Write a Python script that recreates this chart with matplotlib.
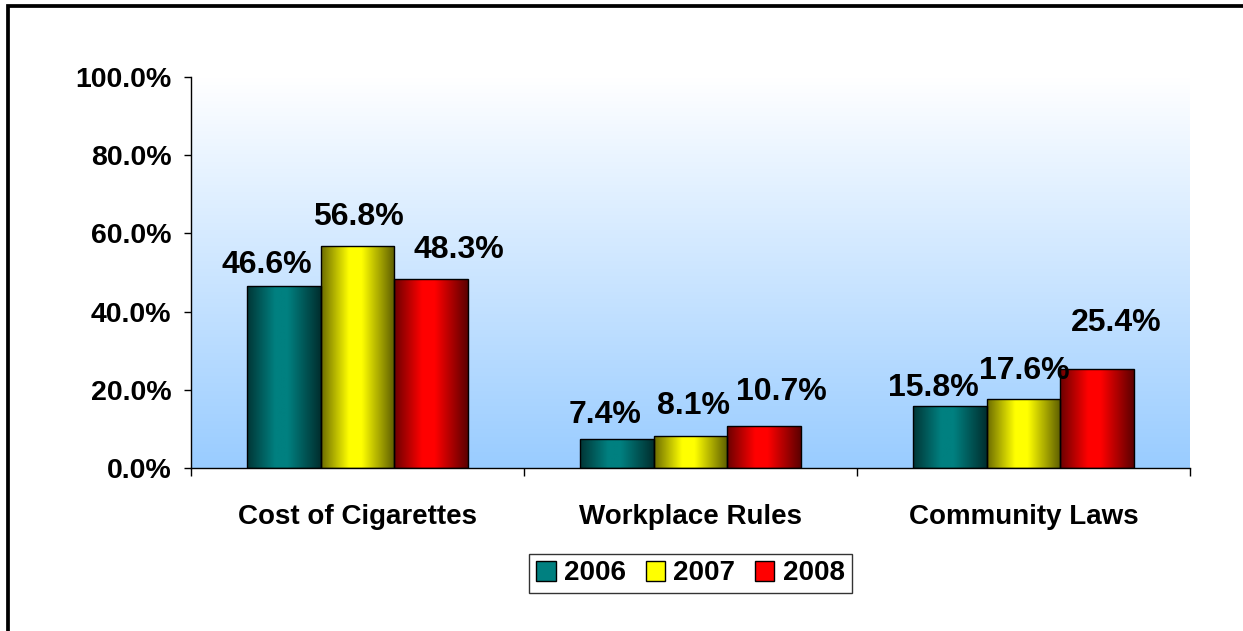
import numpy as np
import matplotlib
matplotlib.use("Agg")
import matplotlib.pyplot as plt
from matplotlib.patches import Patch, Rectangle
from matplotlib.colors import to_rgb

plt.rcParams['font.family'] = ['Liberation Sans', 'DejaVu Sans']
plt.rcParams['font.weight'] = 'bold'

# data
categories = ["Cost of Cigarettes", "Workplace Rules", "Community Laws"]
years = ["2006", "2007", "2008"]
share_2006 = [0.466, 0.074, 0.158]
share_2007 = [0.568, 0.081, 0.176]
share_2008 = [0.483, 0.107, 0.254]
series = [share_2006, share_2007, share_2008]

colors = ["#008080", "#FFFF00", "#FF0000"]
# where excel nudged the data labels (pixels, dx / gap above bar)
label_dx = [[-17, -12, -16], [1, 3, 1], [27, 17, 19]]
label_dy = [[13, 16, 10], [21, 22, 20], [21, 26, 38]]

W, H = 1243, 631
fig = plt.figure(figsize=(W / 100, H / 100), dpi=100)
fig.patch.set_facecolor("white")
ax = fig.add_axes([191 / W, 1 - 468 / H, (1190 - 191) / W, (468 - 77) / H])

# plot area gradient: white on top, light blue at the bottom
grad = np.linspace(0, 1, 256)[:, None]
top = np.array(to_rgb("#FFFFFF"))
bot = np.array(to_rgb("#99CCFF"))
bg = top[None, None, :] * (1 - grad[..., None]) + bot[None, None, :] * grad[..., None]
ax.imshow(bg, extent=[0, 1, 0, 1], transform=ax.transAxes, aspect="auto", zorder=0)

# shading across a bar, dark edges, bright left of middle
t = np.linspace(0, 1, 200)
shade = np.interp(t, [0, 0.38, 0.55, 1.0], [0.42, 1.0, 1.0, 0.36])

x = np.arange(len(categories))
bw = 0.222
for i, (vals, c) in enumerate(zip(series, colors)):
    pos = x + (i - 1) * bw
    bars = ax.bar(pos, vals, width=bw, fill=False, edgecolor="black", linewidth=1, zorder=3)
    img = np.array(to_rgb(c))[None, None, :] * shade[None, :, None]
    for j, b in enumerate(bars):
        im = ax.imshow(img, extent=[b.get_x(), b.get_x() + b.get_width(), 0, b.get_height()],
                       aspect="auto", zorder=2, interpolation="bilinear")
        im.set_clip_path(b)
        ax.annotate(f"{vals[j] * 100:.1f}%", (b.get_x() + b.get_width() / 2, b.get_height()),
                    xytext=(label_dx[i][j], label_dy[i][j]), textcoords="offset pixels",
                    ha="center", va="baseline", fontsize=23, fontweight="bold", zorder=4)

ax.set_xlim(-0.5, len(categories) - 0.5)
ax.set_ylim(0, 1)
ax.set_facecolor("none")

ax.set_yticks(np.arange(0, 1.01, 0.2))
ax.set_yticklabels([f"{v * 100:.1f}%" for v in np.arange(0, 1.01, 0.2)])
ax.tick_params(axis="y", length=5, width=1, pad=9, labelsize=20.5)

ax.set_xticks(np.arange(-0.5, len(categories), 1))
ax.set_xticklabels([])
ax.set_xticks(x, minor=True)
ax.set_xticklabels(categories, minor=True)
ax.tick_params(axis="x", which="major", length=6, width=1)
ax.tick_params(axis="x", which="minor", length=0, pad=26, labelsize=20)

for s in ["top", "right"]:
    ax.spines[s].set_visible(False)
for s in ["left", "bottom"]:
    ax.spines[s].set_linewidth(1)

handles = [Patch(facecolor=c, edgecolor="black", linewidth=1) for c in colors]
leg = fig.legend(handles, years, loc="center", bbox_to_anchor=(690.5 / W, 1 - 573.5 / H),
                 ncol=3, fontsize=20, frameon=True, fancybox=False, edgecolor="black",
                 handlelength=0.7, handleheight=0.7, handletextpad=0.3,
                 columnspacing=0.7, borderpad=0.25, borderaxespad=0)
leg.get_frame().set_linewidth(1)
for txt in leg.get_texts():
    txt.set_fontweight("bold")

# outer chart frame (only top and left edges are visible in the crop)
fig.add_artist(Rectangle((8 / W, -0.2), 2, 1.2 - 5.5 / H, transform=fig.transFigure,
                         fill=False, edgecolor="black", linewidth=2.7))

fig.savefig("out.png", dpi=100)
